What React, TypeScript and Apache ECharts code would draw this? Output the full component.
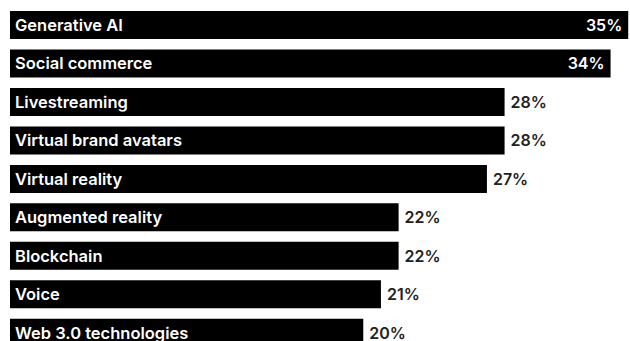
import React, { useEffect, useRef } from "react";
import * as echarts from "echarts";

const categories = [
  "Generative AI",
  "Social commerce",
  "Livestreaming",
  "Virtual brand avatars",
  "Virtual reality",
  "Augmented reality",
  "Blockchain",
  "Voice",
  "Web 3.0 technologies",
];
const values = [35, 34, 28, 28, 27, 22, 22, 21, 20];
const insideValueLabel = [true, true, false, false, false, false, false, false, false];

export default function App() {
  const ref = useRef<HTMLDivElement>(null);
  useEffect(() => {
    document.body.style.margin = "0";
    const chart = echarts.init(ref.current!, null, { renderer: "svg" });
    const font = "Inter, 'Noto Sans', sans-serif";
    chart.setOption({
      animation: false,
      grid: { left: 10, right: 0, top: 5.75, bottom: 0, containLabel: false },
      xAxis: { type: "value", min: 0, max: 35.1, show: false },
      yAxis: { type: "category", data: categories, inverse: true, show: false },
      series: [
        {
          type: "bar",
          data: values,
          barWidth: 28,
          itemStyle: { color: "#000" },
          label: {
            show: true,
            position: "insideLeft",
            distance: 5,
            formatter: (p: any) => p.name,
            color: "#fff",
            fontFamily: font,
            fontWeight: 600,
            fontSize: 16.5,
            lineHeight: 13,
          },
          silent: true,
        },
        {
          type: "bar",
          barGap: "-100%",
          barWidth: 28,
          data: values.map((v, i) => ({
            value: v,
            label: insideValueLabel[i]
              ? { position: "insideRight", color: "#fff", distance: 6 }
              : { position: "right", color: "#222", distance: 6 },
          })),
          itemStyle: { color: "rgba(0,0,0,0)" },
          label: {
            show: true,
            formatter: (p: any) => p.value + "%",
            fontFamily: font,
            fontWeight: 600,
            fontSize: 16,
            lineHeight: 13,
          },
          silent: true,
        },
      ],
    });
    return () => chart.dispose();
  }, []);
  return (
    <div style={{ width: 630, height: 341, overflow: "hidden" }}>
      <div ref={ref} style={{ width: 630, height: 352.25 }} />
    </div>
  );
}
